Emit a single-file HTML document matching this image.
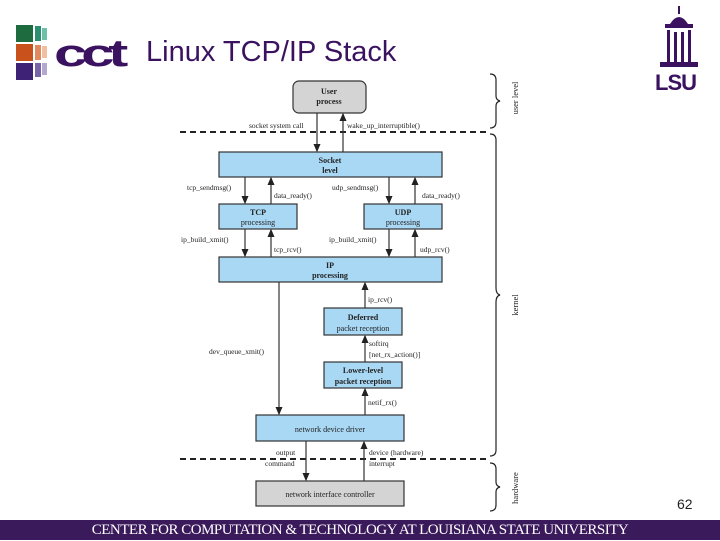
<!DOCTYPE html>
<html><head><meta charset="utf-8"><style>
body{margin:0;width:720px;height:540px;background:#fff;overflow:hidden;position:relative;font-family:"Liberation Sans",sans-serif}
.t{position:absolute;left:146px;top:36px;font-size:29px;color:#3a1260}
.foot{position:absolute;left:0;top:520px;width:720px;height:20px;background:#3b1a5c;color:#fff;font-family:"Liberation Serif",serif;font-size:15px;line-height:21px;text-align:center;letter-spacing:-0.5px}
.pg{position:absolute;left:677px;top:496px;font-size:14px;color:#222}
</style></head><body>
<svg width="720" height="540" style="position:absolute;left:0;top:0" font-family="Liberation Serif, serif">
<defs><marker id="a" markerWidth="7" markerHeight="7" refX="6" refY="3.5" orient="auto"><path d="M0,0.5 L7,3.5 L0,6.5z" fill="#222"/></marker></defs>
<rect x="16" y="25" width="17" height="17" fill="#1e6b40"/><rect x="35" y="26" width="6" height="15" fill="#2a8f70"/><rect x="42" y="28" width="5" height="12" fill="#6cc0a8"/>
<rect x="16" y="44" width="17" height="17" fill="#c9521c"/><rect x="35" y="45" width="6" height="15" fill="#e08a60"/><rect x="42" y="46" width="5" height="12" fill="#efbfa0"/>
<rect x="16" y="63" width="17" height="17" fill="#3e2275"/><rect x="35" y="63" width="6" height="14" fill="#7a64a8"/><rect x="42" y="63" width="5" height="12" fill="#b5a8d0"/>
<text x="54" y="66" font-family="Liberation Sans, sans-serif" font-weight="bold" font-size="38" fill="#3a1260" letter-spacing="-4" textLength="68" lengthAdjust="spacingAndGlyphs">cct</text>
<g fill="#3a1260"><rect x="678" y="6" width="2" height="8"/><path d="M670,24 Q679,10 688,24z"/><rect x="665" y="24" width="28" height="4"/><rect x="667" y="30" width="3" height="34"/><rect x="674" y="32" width="3" height="30"/><rect x="681" y="32" width="3" height="30"/><rect x="688" y="30" width="3" height="34"/><rect x="660" y="62" width="38" height="5"/>
<text x="655" y="90" font-family="Liberation Sans, sans-serif" font-weight="bold" font-size="22" letter-spacing="-1">LSU</text></g>
<line x1="180" y1="132" x2="490" y2="132" stroke="#222" stroke-width="2" stroke-dasharray="6,4"/>
<line x1="180" y1="459" x2="490" y2="459" stroke="#222" stroke-width="2" stroke-dasharray="6,4"/>
<g stroke="#333" stroke-width="1.2">
<rect x="293" y="81" width="73" height="32" rx="6" fill="#d4d4d4"/>
<rect x="219" y="152" width="223" height="25" fill="#a9d8f5"/>
<rect x="219" y="204" width="78" height="25" fill="#a9d8f5"/>
<rect x="364" y="204" width="78" height="25" fill="#a9d8f5"/>
<rect x="219" y="257" width="223" height="25" fill="#a9d8f5"/>
<rect x="324" y="308" width="78" height="27" fill="#a9d8f5"/>
<rect x="324" y="362" width="78" height="26" fill="#a9d8f5"/>
<rect x="256" y="415" width="148" height="26" fill="#a9d8f5"/>
<rect x="256" y="481" width="148" height="25" fill="#d4d4d4"/>
</g>
<g font-size="8" fill="#222" text-anchor="middle" font-weight="bold">
<text x="329" y="94">User</text><text x="329" y="104">process</text>
<text x="330" y="163">Socket</text><text x="330" y="173">level</text>
<text x="258" y="215">TCP</text><text x="258" y="225" font-weight="normal">processing</text>
<text x="403" y="215">UDP</text><text x="403" y="225" font-weight="normal">processing</text>
<text x="330" y="268">IP</text><text x="330" y="278">processing</text>
<text x="363" y="320">Deferred</text><text x="363" y="331" font-weight="normal">packet reception</text>
<text x="363" y="373">Lower-level</text><text x="363" y="384">packet reception</text>
<text x="330" y="432" font-weight="normal">network device driver</text>
<text x="330" y="497" font-weight="normal">network interface controller</text>
</g>
<g stroke="#333" stroke-width="1.2" marker-end="url(#a)">
<line x1="317" y1="113" x2="317" y2="151"/><line x1="343" y1="152" x2="343" y2="114"/>
<line x1="245" y1="177" x2="245" y2="203"/><line x1="271" y1="204" x2="271" y2="178"/>
<line x1="389" y1="177" x2="389" y2="203"/><line x1="415" y1="204" x2="415" y2="178"/>
<line x1="245" y1="229" x2="245" y2="256"/><line x1="271" y1="257" x2="271" y2="230"/>
<line x1="389" y1="229" x2="389" y2="256"/><line x1="415" y1="257" x2="415" y2="230"/>
<line x1="279" y1="282" x2="279" y2="414"/>
<line x1="365" y1="308" x2="365" y2="283"/><line x1="365" y1="362" x2="365" y2="336"/><line x1="365" y1="415" x2="365" y2="389"/>
<line x1="306" y1="441" x2="306" y2="480"/><line x1="364" y1="481" x2="364" y2="442"/>
</g>
<g font-size="7.5" fill="#222">
<text x="249" y="128">socket system call</text><text x="347" y="128">wake_up_interruptible()</text>
<text x="187" y="190">tcp_sendmsg()</text><text x="274" y="198">data_ready()</text>
<text x="332" y="190">udp_sendmsg()</text><text x="422" y="198">data_ready()</text>
<text x="181" y="242">ip_build_xmit()</text><text x="274" y="252">tcp_rcv()</text>
<text x="329" y="242">ip_build_xmit()</text><text x="420" y="252">udp_rcv()</text>
<text x="368" y="302">ip_rcv()</text>
<text x="209" y="354">dev_queue_xmit()</text>
<text x="369" y="346">softirq</text><text x="369" y="357">[net_rx_action()]</text>
<text x="368" y="405">netif_rx()</text>
<text x="276" y="455">output</text><text x="265" y="466">command</text>
<text x="369" y="455">device (hardware)</text><text x="369" y="466">interrupt</text>
</g>
<g fill="none" stroke="#222" stroke-width="1.2">
<path d="M490,74 Q496,74 496,80 L496,96 Q496,100 500,101 Q496,102 496,106 L496,122 Q496,128 490,128"/>
<path d="M490,134 Q496,134 496,140 L496,288 Q496,294 500,295 Q496,296 496,302 L496,450 Q496,456 490,456"/>
<path d="M490,463 Q496,463 496,469 L496,482 Q496,486 500,487 Q496,488 496,492 L496,505 Q496,511 490,511"/>
</g>
<g font-size="8.5" fill="#222" text-anchor="middle">
<text transform="translate(518,98) rotate(-90)">user level</text>
<text transform="translate(518,305) rotate(-90)">kernel</text>
<text transform="translate(518,488) rotate(-90)">hardware</text>
</g>
</svg>
<div class="t">Linux TCP/IP Stack</div>
<div class="pg">62</div>
<div class="foot">CENTER FOR COMPUTATION &amp; TECHNOLOGY AT LOUISIANA STATE UNIVERSITY</div>
</body></html>
